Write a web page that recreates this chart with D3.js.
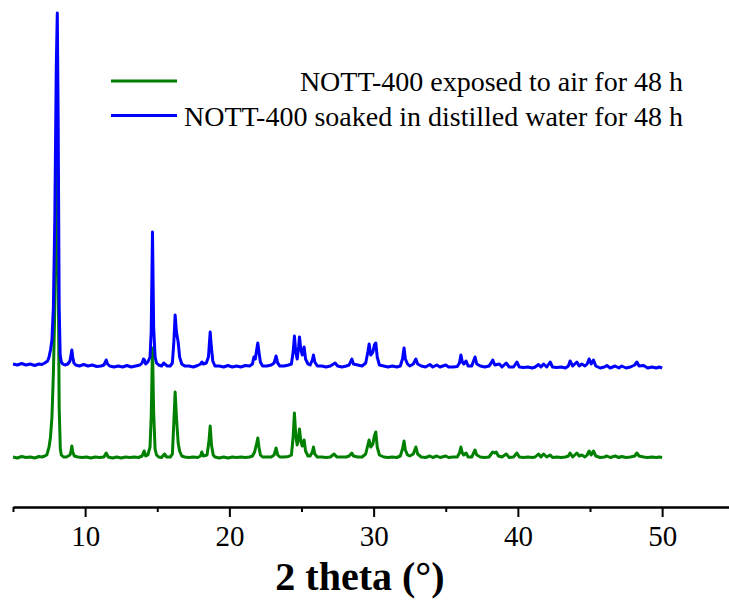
<!DOCTYPE html>
<html>
<head>
<meta charset="utf-8">
<script src="https://cdn.jsdelivr.net/npm/d3@7"></script>
<style>
  html, body { margin: 0; padding: 0; background: #fff; }
  svg { display: block; }
</style>
</head>
<body>
<svg id="chart" width="729" height="600"></svg>
<script>
// ---- data (2θ in degrees, intensity in a.u. incl. stacking offset) ----
const seriesNames = ["NOTT-400 exposed to air for 48 h", "NOTT-400 soaked in distilled water for 48 h"];
const seriesColors = ["#008000", "#0000ff"];
const majorTicks = [10, 20, 30, 40, 50];
const minorTicks = [5, 15, 25, 35, 45, 55];
const xLabel = "2 theta (°)";

const airPattern = [
[5.0,50],[5.3,49],[5.6,50.5],[5.9,49.5],[6.2,50],[6.5,49],[6.8,50.5],[7.0,50],[7.2,51],[7.34,52],[7.5,60],[7.6,70],[7.7,90],[7.8,134],[7.9,200],[8.0,310],[8.07,350],[8.13,250],[8.2,100],[8.28,58],[8.35,52],[8.5,50],[8.7,50],[8.95,52],[9.02,56],[9.08,61],[9.14,55],[9.25,51],[9.5,50],[9.8,49.5],[10.1,50],[10.4,49],[10.7,50],[11.0,49.5],[11.3,50],[11.46,54],[11.6,50],[11.9,49],[12.2,50],[12.5,49],[12.8,50],[13.1,49.5],[13.4,50],[13.7,49.5],[13.95,51],[14.09,56],[14.2,51],[14.35,52],[14.5,60],[14.58,90],[14.67,159],[14.75,95],[14.85,58],[14.95,52],[15.1,50],[15.3,49.5],[15.5,53],[15.65,50],[15.9,50],[16.05,53],[16.15,85],[16.24,115],[16.33,90],[16.45,64],[16.55,56],[16.7,51],[16.9,50],[17.2,49.5],[17.5,50],[17.8,49.5],[18.0,51],[18.09,55],[18.2,51],[18.45,52],[18.58,65],[18.67,81],[18.76,62],[18.88,52],[19.0,50],[19.3,49],[19.6,50],[19.9,49],[20.2,50],[20.5,49.5],[20.8,50],[21.1,49.5],[21.4,50],[21.6,51],[21.75,55],[21.9,64],[21.97,69],[22.05,60],[22.15,52],[22.3,50],[22.6,50],[22.9,50],[23.1,52],[23.24,59],[23.35,52],[23.5,50],[23.8,50],[24.1,50.5],[24.3,52],[24.42,70],[24.51,94],[24.6,72],[24.7,62],[24.8,70],[24.86,78],[24.95,66],[25.05,61],[25.18,67],[25.28,56],[25.45,51],[25.6,51],[25.75,55],[25.83,60],[25.92,53],[26.1,50],[26.4,50],[26.7,49.5],[27.0,50],[27.26,53],[27.45,50],[27.8,50],[28.1,50],[28.3,51],[28.49,54],[28.6,51],[28.9,50],[29.2,50],[29.45,53],[29.6,62],[29.69,67],[29.8,60],[29.95,63],[30.05,71],[30.15,75],[30.25,60],[30.4,52],[30.7,50],[31.0,49.5],[31.3,50],[31.6,49.5],[31.85,51],[32.0,58],[32.11,66],[32.2,57],[32.35,52],[32.5,51],[32.75,53],[32.93,60],[33.05,53],[33.3,50],[33.6,49.5],[33.9,51],[34.1,49.5],[34.38,51],[34.6,49.5],[35.0,51],[35.2,49.5],[35.5,50],[35.8,50],[35.95,54],[36.05,60],[36.15,54],[36.25,52],[36.41,54],[36.55,50],[36.8,50],[37.03,57],[37.15,52],[37.4,50],[37.7,49.5],[38.0,50],[38.15,53],[38.26,55],[38.4,54],[38.5,55],[38.65,51],[38.9,50],[39.19,53],[39.4,49.5],[39.7,50],[39.93,54],[40.1,50],[40.4,49.5],[40.7,50],[41.0,49.5],[41.2,50],[41.43,53],[41.6,50],[41.78,53],[42.0,50],[42.24,52],[42.4,49.5],[42.7,50],[43.0,49.5],[43.3,50],[43.5,51],[43.62,54],[43.8,50],[44.09,54],[44.25,51],[44.43,52],[44.65,50],[44.8,52],[44.94,56],[45.08,52],[45.24,56],[45.4,51],[45.7,49.5],[46.0,50],[46.17,51],[46.4,49.5],[46.74,51],[47.0,49.5],[47.2,50.5],[47.5,49.5],[47.8,50],[48.1,51],[48.25,54],[48.4,51],[48.72,50],[49.0,49.5],[49.3,50],[49.6,49.5],[49.8,50],[50.0,49.5]
];

const waterPattern = [
[5.0,143],[5.3,142],[5.6,143.5],[5.9,142],[6.2,143],[6.5,141.5],[6.8,143],[7.0,142.5],[7.2,144],[7.4,146],[7.5,150],[7.6,157],[7.7,167],[7.8,200],[7.9,290],[8.0,440],[8.07,494],[8.13,390],[8.2,200],[8.27,152],[8.35,145],[8.45,143],[8.6,142],[8.8,143],[8.95,146],[9.02,152],[9.08,157],[9.14,150],[9.22,144],[9.35,142],[9.6,141],[9.9,142.5],[10.2,141],[10.5,142],[10.8,140.5],[11.1,141],[11.3,142],[11.4,145],[11.46,147],[11.55,143],[11.7,141],[12.0,140],[12.3,141],[12.6,140],[12.9,141.5],[13.2,140],[13.5,141],[13.8,142],[13.95,144],[14.05,148],[14.12,147],[14.2,143],[14.35,145],[14.5,150],[14.58,175],[14.67,275],[14.75,180],[14.85,150],[14.95,144],[15.1,142],[15.3,141],[15.45,144],[15.52,143],[15.7,141],[15.9,141],[16.05,144],[16.15,165],[16.24,192],[16.33,175],[16.45,165],[16.55,150],[16.7,143],[16.9,141],[17.2,141],[17.5,140],[17.8,141.5],[18.0,143],[18.1,145],[18.2,143],[18.4,144],[18.55,150],[18.62,165],[18.67,175],[18.75,160],[18.85,146],[19.0,141],[19.3,141],[19.6,140],[19.9,141.5],[20.2,140],[20.5,141],[20.8,140],[21.1,141.5],[21.4,141],[21.6,143],[21.7,150],[21.8,148],[21.9,158],[21.97,164],[22.05,155],[22.15,145],[22.3,141],[22.6,141],[22.9,142],[23.1,144],[23.24,151],[23.35,144],[23.5,141],[23.8,141],[24.1,142],[24.3,143],[24.42,155],[24.51,171],[24.6,155],[24.7,148],[24.8,160],[24.86,170],[24.95,158],[25.05,152],[25.18,160],[25.28,148],[25.45,143],[25.6,142],[25.75,147],[25.83,152],[25.92,145],[26.1,141],[26.4,141],[26.7,140],[27.0,141],[27.33,144],[27.5,141],[27.8,140],[28.1,141],[28.3,142],[28.49,148],[28.6,143],[28.9,142],[29.2,141],[29.45,144],[29.6,155],[29.69,163],[29.8,152],[29.95,155],[30.05,162],[30.15,164],[30.25,150],[30.4,142],[30.7,141],[31.0,140],[31.3,141],[31.6,140],[31.85,141],[32.0,148],[32.11,159],[32.2,148],[32.35,143],[32.5,141],[32.75,143],[32.93,148],[33.05,143],[33.3,141],[33.6,140],[33.9,142.5],[34.1,140],[34.38,142],[34.6,140],[35.0,142],[35.2,140],[35.5,140],[35.8,140.5],[35.95,144],[36.05,152],[36.15,145],[36.25,143],[36.41,146],[36.55,141],[36.8,141],[37.03,150],[37.15,143],[37.4,141],[37.7,140],[38.0,141],[38.15,144],[38.26,147],[38.4,142],[38.72,143],[38.9,140],[39.19,144],[39.4,140],[39.7,140],[39.93,145],[40.1,140],[40.4,139.5],[40.7,140],[41.0,139],[41.2,140],[41.43,142.5],[41.6,140],[41.78,143],[42.0,140],[42.24,145],[42.4,140],[42.7,139.5],[43.0,140],[43.3,139],[43.5,141],[43.62,146],[43.8,141],[44.09,145],[44.25,141],[44.43,143],[44.65,141],[44.8,143],[44.94,148],[45.08,143],[45.24,147],[45.4,141],[45.7,139],[46.0,140],[46.17,141.5],[46.4,139],[46.74,141],[47.0,139],[47.2,141],[47.5,139],[47.8,140],[48.1,142],[48.25,145],[48.4,141],[48.72,141.5],[49.0,139],[49.3,140],[49.6,139],[49.8,140],[50.0,139]
];

// ---- drawing ----
const svg = d3.select("#chart");
const x = d3.scaleLinear().domain([5, 55]).range([13, 734.25]);
const y = d3.scaleLinear().domain([0, 500]).range([507, 7]);
const serif = "'Liberation Serif', 'Times New Roman', serif";

const line = d3.line().x(d => x(d[0])).y(d => y(d[1]));

const patterns = [airPattern, waterPattern];
patterns.forEach((p, i) => {
  svg.append("path")
    .datum(p)
    .attr("fill", "none")
    .attr("stroke", seriesColors[i])
    .attr("stroke-width", 3)
    .attr("stroke-linejoin", "round")
    .attr("d", line);
});

// x axis
const axisY = 507;
const gMinor = svg.append("g").attr("transform", `translate(0,${axisY})`)
  .call(d3.axisBottom(x).tickValues(minorTicks).tickSize(5).tickSizeOuter(0).tickFormat(""));
const gMajor = svg.append("g").attr("transform", `translate(0,${axisY})`)
  .call(d3.axisBottom(x).tickValues(majorTicks).tickSize(10).tickSizeOuter(0).tickPadding(10));
[gMinor, gMajor].forEach(g => {
  g.select(".domain").attr("stroke", "#000").attr("stroke-width", 2);
  g.selectAll(".tick line").attr("stroke", "#000").attr("stroke-width", 2);
});
gMajor.selectAll(".tick text")
  .attr("font-family", serif).attr("font-size", 29).attr("fill", "#000")
  .attr("dy", null).attr("y", 39);

svg.append("text")
  .attr("x", 360).attr("y", 590)
  .attr("text-anchor", "middle")
  .attr("font-family", serif).attr("font-weight", "bold").attr("font-size", 40)
  .attr("fill", "#000")
  .text(xLabel);

// legend
const legendRows = [81, 115.5];
seriesNames.forEach((name, i) => {
  svg.append("line")
    .attr("x1", 111).attr("x2", 177)
    .attr("y1", legendRows[i]).attr("y2", legendRows[i])
    .attr("stroke", seriesColors[i]).attr("stroke-width", 2.8);
  svg.append("text")
    .attr("x", 683).attr("y", legendRows[i] + 10)
    .attr("text-anchor", "end")
    .attr("font-family", serif).attr("font-size", 28).attr("fill", "#000")
    .text(name);
});
</script>
</body>
</html>
